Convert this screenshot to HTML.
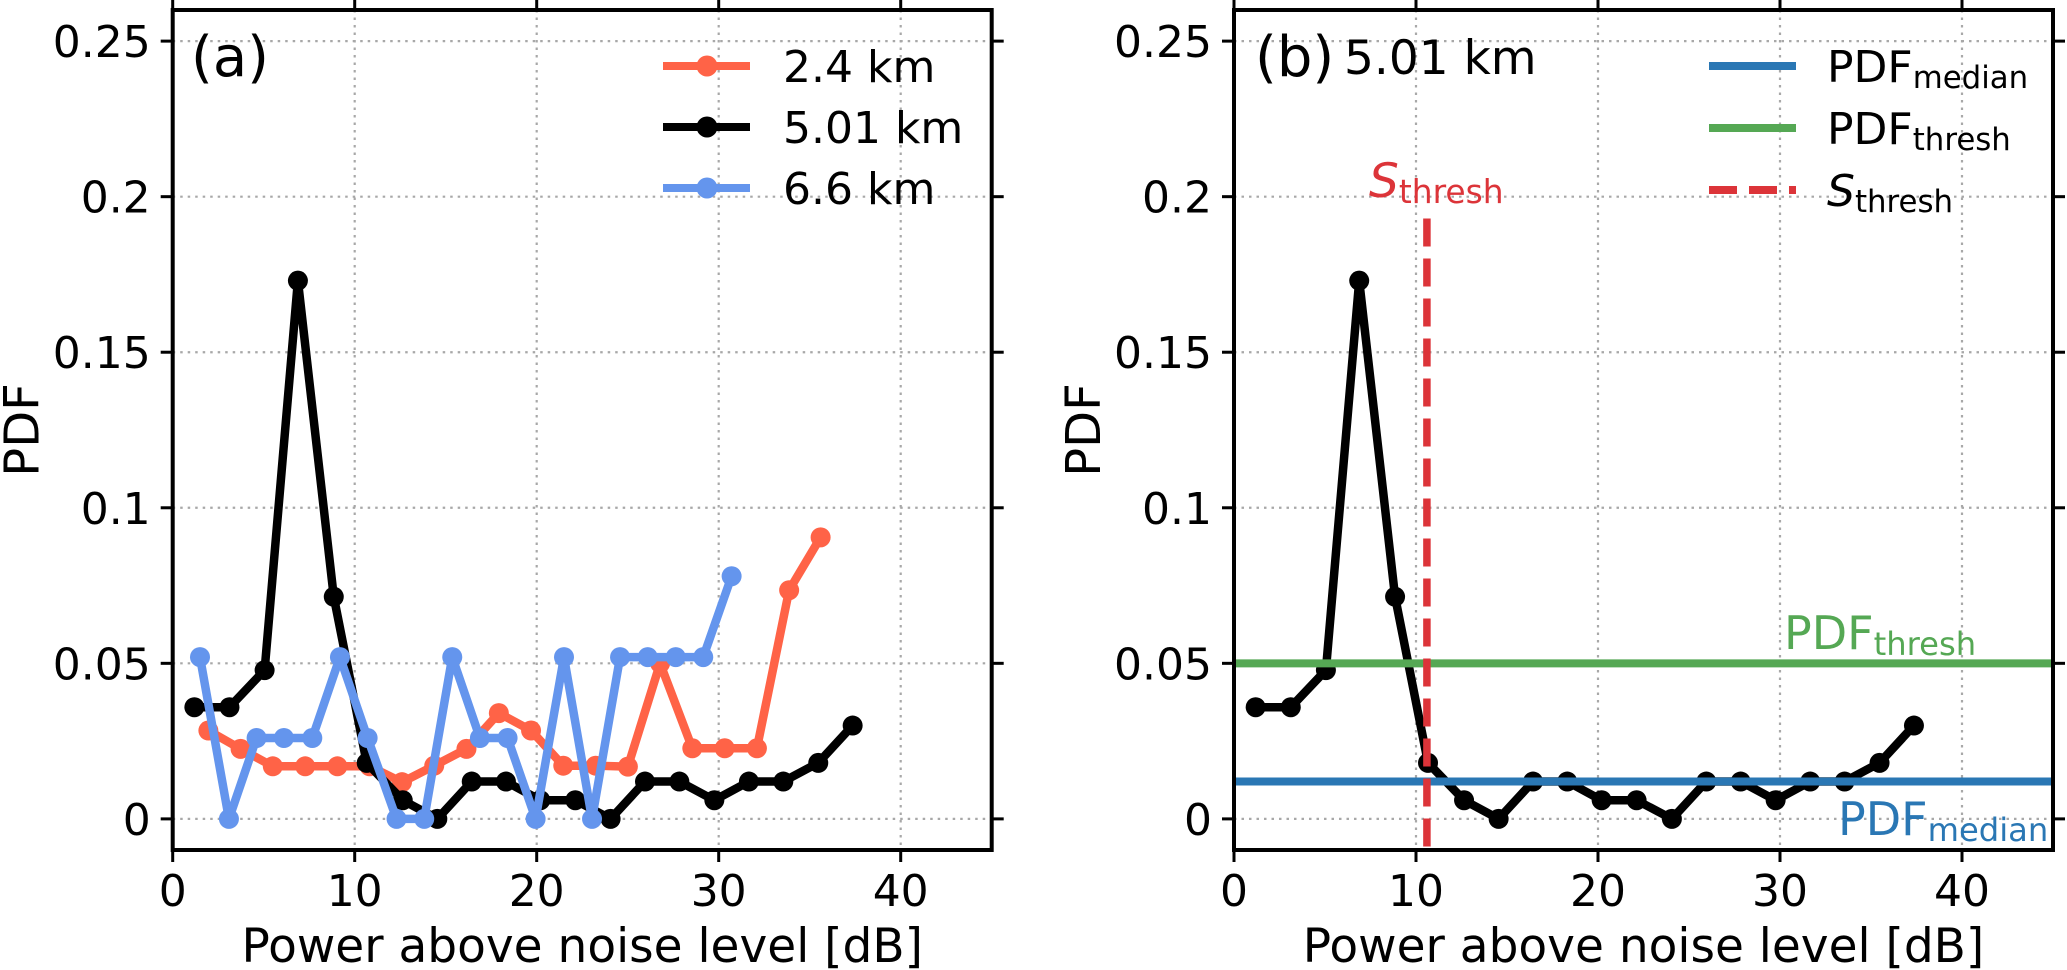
<!DOCTYPE html>
<html><head><meta charset="utf-8"><style>
html,body{margin:0;padding:0;background:#fff;}
svg{display:block;font-family:"DejaVu Sans","Liberation Sans",sans-serif;}
</style></head><body>
<svg id="chart" width="2067" height="970" viewBox="0 0 2067 970" xmlns="http://www.w3.org/2000/svg"></svg>
<script>
// ---- data ----
const xRed = [1.96,3.73,5.5,7.28,9.05,10.82,12.6,14.37,16.14,17.92,19.69,21.46,23.24,25.01,26.78,28.55,30.33,32.1,33.87,35.6];
const yRed = [0.0284,0.0225,0.0169,0.0169,0.0169,0.0169,0.0118,0.0171,0.0225,0.034,0.0284,0.0171,0.0171,0.0168,0.050,0.0227,0.0227,0.0227,0.0735,0.0905];
const xBlack = [1.19,3.12,5.05,6.88,8.85,10.66,12.64,14.54,16.43,18.31,20.2,22.12,24.06,25.95,27.84,29.76,31.66,33.55,35.47,37.36];
const yBlack = [0.0359,0.0359,0.0478,0.173,0.0714,0.018,0.006,0,0.012,0.012,0.006,0.006,0,0.012,0.012,0.006,0.012,0.012,0.018,0.030];
const xBlue = [1.5,3.09,4.61,6.11,7.67,9.19,10.71,12.3,13.82,15.36,16.88,18.4,19.94,21.5,23.04,24.58,26.1,27.64,29.15,30.71];
const yBlue = [0.052,0,0.026,0.026,0.026,0.052,0.026,0,0,0.052,0.026,0.026,0,0.052,0,0.052,0.052,0.052,0.052,0.078];
const xTicks = [0,10,20,30,40];
const yTicks = [0,0.05,0.1,0.15,0.2,0.25];
const yTickLabels = ["0","0.05","0.1","0.15","0.2","0.25"];
const pdfMedian = [0.012];
const pdfThresh = [0.05];
const sThresh = [10.6];
const sThreshTop = [0.193];

const svg = document.getElementById('chart');
const NS = 'http://www.w3.org/2000/svg';
function mk(tag, attrs, parent){const e=document.createElementNS(NS,tag);for(const k in attrs)e.setAttribute(k,attrs[k]);(parent||svg).appendChild(e);return e;}

const XMIN=0, XMAX=45, YMIN=-0.01, YMAX=0.26;
const TOP=10, BOT=850;
function yS(v){return BOT-(v-YMIN)/(YMAX-YMIN)*(BOT-TOP);}
function makeX(left,right){return v=>left+(v-XMIN)/(XMAX-XMIN)*(right-left);}

function axes(left,right,name){
  const xS=makeX(left,right);
  const g=mk('g',{});
  
  
  xTicks.forEach(t=>{
    const x=xS(t);
    const gl=mk('line',{x1:x,x2:x,y1:TOP,y2:BOT,stroke:'#a8a8a8','stroke-width':2.2,'stroke-dasharray':'2.5 5'},g);
    
    
    mk('line',{x1:x,x2:x,y1:BOT,y2:BOT+12,stroke:'#000','stroke-width':3},g);
    mk('line',{x1:x,x2:x,y1:TOP,y2:TOP-12,stroke:'#000','stroke-width':3},g);
    const tl=mk('text',{x:x,y:906,'font-size':44,'text-anchor':'middle',fill:'#000'},g);
    tl.textContent=t;
    
    
  });
  yTicks.forEach((t,i)=>{
    const y=yS(t);
    const gl=mk('line',{x1:left,x2:right,y1:y,y2:y,stroke:'#a8a8a8','stroke-width':2.2,'stroke-dasharray':'2.5 5'},g);
    
    
    mk('line',{x1:left-12,x2:left,y1:y,y2:y,stroke:'#000','stroke-width':3},g);
    mk('line',{x1:right,x2:right+12,y1:y,y2:y,stroke:'#000','stroke-width':3},g);
    const tl=mk('text',{x:left-22,y:y+16,'font-size':44,'text-anchor':'end',fill:'#000'},g);
    tl.textContent=yTickLabels[i];
    
    
  });
  const xl=mk('text',{x:(left+right)/2,y:962,'font-size':47,'text-anchor':'middle',fill:'#000'},g);
  xl.textContent='Power above noise level [dB]';
  
  
  const cx=left-152, cy=(TOP+BOT)/2;
  const yl=mk('text',{x:cx,y:cy+18,'font-size':48,'text-anchor':'middle',fill:'#000',transform:`rotate(-90 ${cx} ${cy})`},g);
  yl.textContent='PDF';
  
  
  return xS;
}
function frame(left,right,name){
  const f=mk('rect',{x:left,y:TOP,width:right-left,height:BOT-TOP,fill:'none',stroke:'#000','stroke-width':4});
  
  
}
function series(xS,xs,ys,color,name){
  const g=mk('g',{});
  
  
  const pts=xs.map((x,i)=>xS(x)+','+yS(ys[i])).join(' ');
  mk('polyline',{points:pts,fill:'none',stroke:color,'stroke-width':8.5,'stroke-linejoin':'round'},g);
  xs.forEach((x,i)=>{
    const c=mk('circle',{cx:xS(x),cy:yS(ys[i]),r:10,fill:color},g);
    
    
  });
}
function sub(parent,x,y,main,subt,color,size,italic){
  const t=mk('text',{x:x,y:y,'font-size':size,fill:color},parent);
  const a=mk('tspan',{},t);a.textContent=main;
  if(italic)a.setAttribute('font-style','italic');
  const b=mk('tspan',{'font-size':size*0.7,dy:6},t);b.textContent=subt;
  return t;
}

// ---- panel a ----
const aL=172.7,aR=991.7;
const xa=axes(aL,aR,'panel-a');
series(xa,xRed,yRed,'#FF6347','series-2-4km');
series(xa,xBlack,yBlack,'#000000','series-5-01km');
series(xa,xBlue,yBlue,'#6495ED','series-6-6km');
frame(aL,aR,'panel-a');
const la=mk('text',{x:191,y:76,'font-size':56,fill:'#000'});la.textContent='(a)';


const legA=[['2.4 km','#FF6347',66],['5.01 km','#000000',127],['6.6 km','#6495ED',188]];
legA.forEach(([lab,col,y])=>{
  const g=mk('g',{});
  
  
  mk('line',{x1:663,x2:750,y1:y,y2:y,stroke:col,'stroke-width':8},g);
  mk('circle',{cx:707,cy:y,r:10.5,fill:col},g);
  const t=mk('text',{x:783,y:y+16,'font-size':44,fill:'#000'},g);t.textContent=lab;
});

// ---- panel b ----
const bL=1234,bR=2053;
const xb=axes(bL,bR,'panel-b');
series(xb,xBlack,yBlack,'#000000','series-b-5-01km');
const hm=mk('line',{x1:bL,x2:bR,y1:yS(pdfMedian[0]),y2:yS(pdfMedian[0]),stroke:'#2a77b4','stroke-width':8});


const ht=mk('line',{x1:bL,x2:bR,y1:yS(pdfThresh[0]),y2:yS(pdfThresh[0]),stroke:'#55a854','stroke-width':8});


const vs=mk('line',{x1:xb(sThresh[0]),x2:xb(sThresh[0]),y1:yS(sThreshTop[0]),y2:BOT,stroke:'#dc3439','stroke-width':7.5,'stroke-dasharray':'28 12'});


frame(bL,bR,'panel-b');
const lb=mk('text',{x:1255,y:76,'font-size':56,fill:'#000'});lb.textContent='(b)';


const hb=mk('text',{x:1344,y:74,'font-size':47,fill:'#000'});hb.textContent='5.01 km';


const st=sub(svg,1369,197,'S','thresh','#dc3439',47,true);


const pt=sub(svg,1784,649,'PDF','thresh','#55a854',46,false);


const pm=sub(svg,1838,835,'PDF','median','#2a77b4',46,false);


const legB=[['PDF','median','#2a77b4',66,false,false],['PDF','thresh','#55a854',128,false,false],['S','thresh','#dc3439',190,true,true]];
legB.forEach(([m,s,col,y,dash,it])=>{
  const g=mk('g',{});
  
  
  const l=mk('line',{x1:1709,x2:1796,y1:y,y2:y,stroke:col,'stroke-width':8},g);
  if(dash)l.setAttribute('stroke-dasharray','28 12');
  sub(g,1827,y+16,m,s,'#000',44,it);
});
</script>
</body></html>
